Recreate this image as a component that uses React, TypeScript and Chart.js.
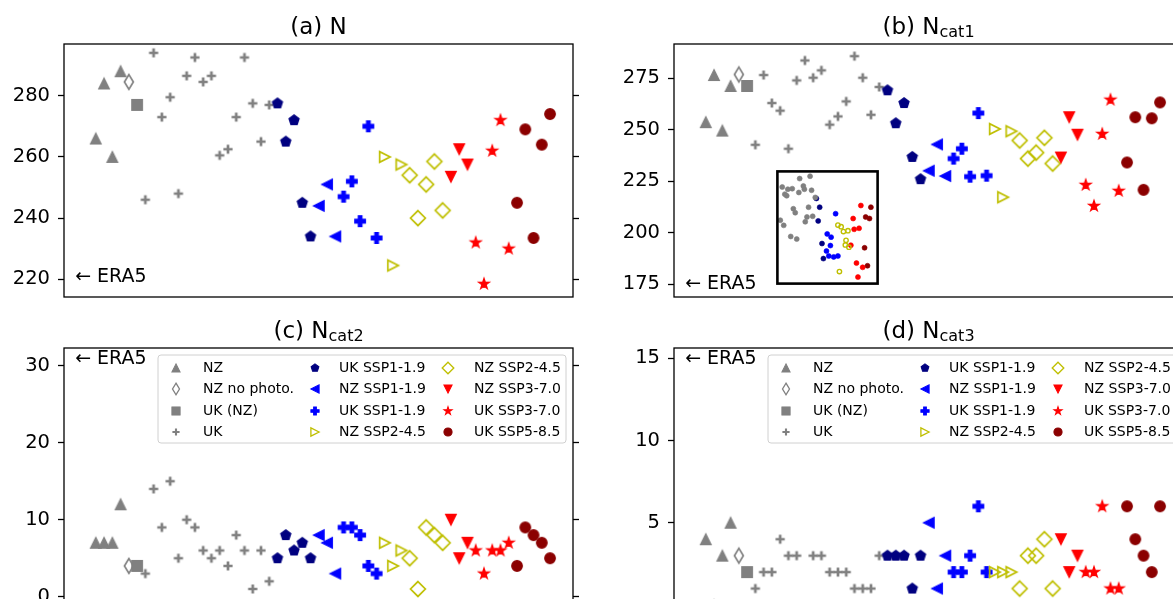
import React, { useEffect, useRef } from 'react';
import { Chart, registerables } from 'chart.js';

Chart.register(...registerables);

// ---------------- data ----------------
const groupLabels = ['NZ', 'NZ no photo.', 'UK (NZ)', 'UK', 'UK SSP1-1.9', 'NZ SSP1-1.9', 'UK SSP1-1.9', 'NZ SSP2-4.5', 'NZ SSP2-4.5', 'NZ SSP3-7.0', 'UK SSP3-7.0', 'UK SSP5-8.5'];
const groupColors = ['#808080', '#808080', '#808080', '#808080', '#000080', '#0000ff', '#0000ff', '#bfbf00', '#bfbf00', '#ff0000', '#ff0000', '#8b0000'];
const groupMarkers = ['triUp', 'thinDiamond', 'square', 'plus', 'pentagon', 'triLeft', 'plusFilled', 'triRight', 'diamond', 'triDown', 'star', 'circle'];
const groupFilled = [true, false, true, true, true, true, true, false, false, true, true, true];
// position of each group's first member along the (unlabelled) x axis
const groupFirstMember = [0, 4, 5, 6, 22, 27, 30, 35, 38, 43, 46, 51];

const valuesN = [
  [266, 284, 260, 288],
  [284.5],
  [277],
  [246, 294, 273, 279.5, 248, 286.5, 292.5, 284.5, 286.5, 260.5, 262.5, 273, 292.5, 277.5, 265, 277],
  [277.5, 265, 272, 245, 234],
  [244, 251, 234],
  [247, 252, 239, 270, 233.5],
  [260, 224.5, 257.5],
  [254, 240, 251, 258.5, 242.5],
  [253.5, 262.5, 257.5],
  [232, 218.5, 262, 272, 230],
  [245, 269, 233.5, 264, 274],
];
const valuesCat1 = [
  [253.7, 276.6, 249.6, 271.3],
  [276.9],
  [271.3],
  [242.7, 276.6, 263.0, 259.3, 240.8, 274.0, 283.7, 275.3, 278.9, 252.5, 256.5, 263.8, 285.8, 275.3, 257.3, 270.8],
  [269.2, 253.2, 263.0, 236.8, 226.0],
  [230.1, 242.9, 227.5],
  [236.0, 240.8, 227.2, 258.1, 227.7],
  [250.4, 217.2, 249.3],
  [244.8, 236.0, 238.9, 246.1, 233.6],
  [236.5, 256.1, 247.6],
  [223.2, 213.0, 248.0, 264.6, 220.3],
  [234.1, 256.1, 220.8, 255.6, 263.3],
];
const valuesCat2 = [
  [7, 7, 7, 12],
  [4],
  [4],
  [3, 14, 9, 15, 5, 10, 9, 6, 5, 6, 4, 8, 6, 1, 6, 2],
  [5, 8, 6, 7, 5],
  [8, 7, 3],
  [9, 9, 8, 4, 3],
  [7, 4, 6],
  [5, 1, 9, 8, 7],
  [10, 5, 7],
  [6, 3, 6, 6, 7],
  [4, 9, 8, 7, 5],
];
const valuesCat3 = [
  [4, 0, 3, 5],
  [3],
  [2],
  [1, 2, 2, 4, 3, 3, 0, 3, 3, 2, 2, 2, 1, 1, 1, 3],
  [3, 3, 3, 1, 3],
  [5, 1, 3],
  [2, 2, 3, 6, 2],
  [2, 2, 2],
  [1, 3, 3, 4, 1],
  [4, 2, 3],
  [2, 2, 6, 1, 1],
  [6, 4, 3, 2, 6],
];

const ticksN = [220, 240, 260, 280];
const ticksCat1 = [175, 200, 225, 250, 275];
const ticksCat2 = [0, 10, 20, 30];
const ticksCat3 = [5, 10, 15];

const era5Values = [220.8, 175, 30.8, 14.95];
const panelTitles = ['(a) N', '(b) N', '(c) N', '(d) N'];
const panelSubs = ['', 'cat1', 'cat2', 'cat3'];

// inset of panel (b)
const insetColors = ['#808080', '#000080', '#0000ff', '#bfbf00', '#ff0000', '#8b0000'];
const insetFilled = [true, true, true, false, true, true];
const insetX = [
  [4.8, 10.4, 14.8, 9.3, 7.4, 22.2, 32.6, 25.9, 21.4, 26.9, 34.1, 37.8, 15.9, 17.8, 31.1, 29.5, 27.8, 35.2, 2.9, 6.3, 13.3, 19.3],
  [38.9, 42.2, 40.7, 44.5, 45.9],
  [58.1, 49.7, 53.6, 52.9, 49.0, 51.3, 56.2, 60.4],
  [60.4, 63.6, 65.9, 70.4, 68.5, 67.8, 71.4, 61.9],
  [83.3, 75.6, 76.6, 81.5, 73.3, 78.9, 85.1, 80.4],
  [93.3, 88.1, 91.9, 87.0, 89.9],
];
const insetY = [
  [86.1, 84.1, 84.6, 78.3, 79.7, 93.6, 95.7, 87.0, 81.2, 84.1, 83.2, 76.8, 66.7, 63.2, 68.1, 59.4, 55.1, 60.0, 56.5, 51.9, 42.0, 39.7],
  [75.9, 68.1, 55.9, 35.7, 22.3],
  [62.3, 44.3, 41.4, 33.9, 29.0, 24.6, 23.8, 24.6],
  [52.2, 50.7, 46.4, 47.2, 38.6, 34.5, 32.5, 10.7],
  [69.6, 58.0, 48.4, 49.3, 34.2, 18.3, 14.5, 5.8],
  [68.1, 59.4, 58.0, 31.9, 15.9],
];

// ---------------- layout ----------------
const FONT = '"DejaVu Sans", "Liberation Sans", sans-serif';
const X_MIN = -3.85;
const X_MAX = 57.78;
const PAD_L = 64;
const PAD_T = 44;
const AREA_W = 509;
const AREA_H = 253;
const RIGHT_AXIS = 8;
const PAD_R = 2;
const PAD_B = 24;
const CW = PAD_L + AREA_W + RIGHT_AXIS + PAD_R;
const CH = PAD_T + AREA_H + PAD_B;

type PanelSpec = {
  idx: number;
  values: number[][];
  ticks: number[];
  yMin: number;
  yMax: number;
  legend: boolean;
  left: number;
  top: number;
};

const panels: PanelSpec[] = [
  { idx: 0, values: valuesN, ticks: ticksN, yMin: 214.2, yMax: 296.9, legend: false, left: 64, top: 44 },
  { idx: 1, values: valuesCat1, ticks: ticksCat1, yMin: 168.7, yMax: 291.7, legend: false, left: 674, top: 44 },
  { idx: 2, values: valuesCat2, ticks: ticksCat2, yMin: -0.56, yMax: 32.3, legend: true, left: 64, top: 348 },
  { idx: 3, values: valuesCat3, ticks: ticksCat3, yMin: 0.24, yMax: 15.63, legend: true, left: 674, top: 348 },
];

// ---------------- markers ----------------
function markerCanvas(kind: string, color: string, filled: boolean, scale: number): HTMLCanvasElement {
  const S = 2 * Math.ceil(13 * scale);
  const c = document.createElement('canvas');
  c.width = S;
  c.height = S;
  const ctx = c.getContext('2d') as CanvasRenderingContext2D;
  ctx.translate(S / 2, S / 2);
  const M = 10.5 * scale;
  const h = M / 2;
  ctx.strokeStyle = color;
  ctx.fillStyle = color;
  ctx.lineWidth = (filled ? 1.3 : 1.7) * scale;
  ctx.lineJoin = 'miter';
  let pts: number[][] | null = null;
  if (kind === 'triUp') pts = [[0, -h], [-h, h], [h, h]];
  else if (kind === 'triDown') pts = [[0, h], [-h, -h], [h, -h]];
  else if (kind === 'triLeft') pts = [[-h, 0], [h, -h], [h, h]];
  else if (kind === 'triRight') pts = [[h, 0], [-h, -h], [-h, h]];
  else if (kind === 'square') pts = [[-h, -h], [h, -h], [h, h], [-h, h]];
  else if (kind === 'diamond') {
    const d = 0.707 * M;
    pts = [[0, -d], [d, 0], [0, d], [-d, 0]];
  } else if (kind === 'thinDiamond') {
    const d = 0.707 * M;
    pts = [[0, -d], [0.6 * d, 0], [0, d], [-0.6 * d, 0]];
  } else if (kind === 'pentagon') {
    pts = [];
    for (let k = 0; k < 5; k++) {
      const a = -Math.PI / 2 + (k * 2 * Math.PI) / 5;
      pts.push([h * Math.cos(a), h * Math.sin(a)]);
    }
  } else if (kind === 'star') {
    pts = [];
    const R = h * 1.05;
    for (let k = 0; k < 10; k++) {
      const a = -Math.PI / 2 + (k * Math.PI) / 5;
      const r = k % 2 === 0 ? R : R * 0.381966;
      pts.push([r * Math.cos(a), r * Math.sin(a)]);
    }
  } else if (kind === 'plusFilled') {
    const u = M / 6;
    pts = [[-1, -3], [-1, -1], [-3, -1], [-3, 1], [-1, 1], [-1, 3], [1, 3], [1, 1], [3, 1], [3, -1], [1, -1], [1, -3]].map(
      (p) => [p[0] * u, p[1] * u]
    );
  }
  if (pts) {
    ctx.beginPath();
    pts.forEach((p, i) => (i === 0 ? ctx.moveTo(p[0], p[1]) : ctx.lineTo(p[0], p[1])));
    ctx.closePath();
    if (filled) ctx.fill();
    ctx.stroke();
  } else if (kind === 'circle') {
    ctx.beginPath();
    ctx.arc(0, 0, h, 0, Math.PI * 2);
    if (filled) ctx.fill();
    ctx.stroke();
  } else if (kind === 'plus') {
    const L = 4.6 * scale;
    ctx.lineWidth = 2.7 * scale;
    ctx.lineCap = 'butt';
    ctx.beginPath();
    ctx.moveTo(-L, 0);
    ctx.lineTo(L, 0);
    ctx.moveTo(0, -L);
    ctx.lineTo(0, L);
    ctx.stroke();
  }
  return c;
}

// ---------------- panel ----------------
function Panel({ spec }: { spec: PanelSpec }) {
  const ref = useRef<HTMLCanvasElement>(null);
  useEffect(() => {
    const canvas = ref.current as HTMLCanvasElement;
    const markers = groupLabels.map((_, g) => markerCanvas(groupMarkers[g], groupColors[g], groupFilled[g], 1));
    const legendMarkers = groupLabels.map((_, g) => markerCanvas(groupMarkers[g], groupColors[g], groupFilled[g], 0.78));
    const datasets = groupLabels.map((label, g) => ({
      label,
      data: spec.values[g].map((v, j) => ({ x: groupFirstMember[g] + j, y: v })),
      pointStyle: markers[g],
      pointRadius: 6,
      pointHoverRadius: 6,
      showLine: false,
      order: groupLabels.length - g,
    }));
    const yScaleBase = {
      type: 'linear',
      min: spec.yMin,
      max: spec.yMax,
      afterBuildTicks: (s: any) => {
        s.ticks = spec.ticks.map((v) => ({ value: v }));
      },
      grid: { drawOnChartArea: false, drawTicks: true, tickLength: 6, tickWidth: 1.3, tickColor: '#000' },
      border: { display: false },
    };
    const decor = {
      id: 'decor',
      afterDraw(chart: any) {
        const { ctx, chartArea } = chart;
        const { left, top, right, bottom } = chartArea;
        ctx.save();
        // frame
        ctx.strokeStyle = '#000';
        ctx.lineWidth = 1.3;
        ctx.strokeRect(left, top, right - left, bottom - top);
        // title
        ctx.fillStyle = '#000';
        ctx.textAlign = 'left';
        ctx.textBaseline = 'alphabetic';
        const main = panelTitles[spec.idx];
        const sub = panelSubs[spec.idx];
        ctx.font = `23px ${FONT}`;
        const wMain = ctx.measureText(main).width;
        ctx.font = `16px ${FONT}`;
        const wSub = sub ? ctx.measureText(sub).width : 0;
        const x0 = (left + right) / 2 - (wMain + wSub) / 2;
        const base = top - 10.5;
        ctx.font = `23px ${FONT}`;
        ctx.fillText(main, x0, base);
        if (sub) {
          ctx.font = `16px ${FONT}`;
          ctx.fillText(sub, x0 + wMain, base + 3);
        }
        // ERA5 annotation
        const xs = chart.scales.x;
        const ys = chart.scales.y;
        ctx.font = `19px ${FONT}`;
        ctx.textBaseline = 'middle';
        ctx.fillText('\u2190 ERA5', xs.getPixelForValue(-2.5), ys.getPixelForValue(era5Values[spec.idx]));
        // legend
        if (spec.legend) {
          const lw = 408;
          const lh = 88;
          const lx = right - 7 - lw;
          const ly = top + 7;
          ctx.beginPath();
          const r = 3;
          ctx.moveTo(lx + r, ly);
          ctx.arcTo(lx + lw, ly, lx + lw, ly + lh, r);
          ctx.arcTo(lx + lw, ly + lh, lx, ly + lh, r);
          ctx.arcTo(lx, ly + lh, lx, ly, r);
          ctx.arcTo(lx, ly, lx + lw, ly, r);
          ctx.closePath();
          ctx.fillStyle = 'rgba(255,255,255,0.8)';
          ctx.fill();
          ctx.strokeStyle = '#d0d0d0';
          ctx.lineWidth = 1;
          ctx.stroke();
          const colMarker = [18, 157, 290];
          const colText = [45, 181, 316];
          const rowY = [12.5, 34, 55.5, 77];
          ctx.font = `14px ${FONT}`;
          ctx.textBaseline = 'middle';
          ctx.fillStyle = '#000';
          groupLabels.forEach((label, g) => {
            const col = Math.floor(g / 4);
            const row = g % 4;
            const m = legendMarkers[g];
            const cy = ly + rowY[row];
            ctx.drawImage(m, Math.round(lx + colMarker[col] - m.width / 2), Math.round(cy - m.height / 2));
            ctx.fillText(label, lx + colText[col], cy + 0.5);
          });
        }
        ctx.restore();
      },
    };
    const chart = new Chart(canvas, {
      type: 'scatter',
      data: { datasets } as any,
      options: {
        animation: false,
        responsive: false,
        events: [],
        layout: { padding: { left: 0, top: PAD_T, right: PAD_R, bottom: PAD_B } },
        plugins: { legend: { display: false }, tooltip: { enabled: false }, title: { display: false } },
        scales: {
          x: { type: 'linear', min: X_MIN, max: X_MAX, display: false },
          y: {
            ...yScaleBase,
            position: 'left',
            afterFit: (s: any) => {
              s.width = PAD_L;
            },
            ticks: { font: { family: FONT, size: 19.5 }, color: '#000', padding: 8 },
          },
          y2: {
            ...yScaleBase,
            position: 'right',
            afterFit: (s: any) => {
              s.width = RIGHT_AXIS;
            },
            ticks: { display: false },
          },
        } as any,
      },
      plugins: [decor],
    } as any);
    return () => chart.destroy();
  }, []);
  return (
    <canvas
      ref={ref}
      width={CW}
      height={CH}
      style={{ position: 'absolute', left: spec.left - PAD_L, top: spec.top - PAD_T, width: CW, height: CH }}
    />
  );
}

// ---------------- inset ----------------
function Inset() {
  const ref = useRef<HTMLCanvasElement>(null);
  useEffect(() => {
    const canvas = ref.current as HTMLCanvasElement;
    const datasets = insetColors.map((color, g) => ({
      label: 'g' + g,
      data: insetX[g].map((x, j) => ({ x, y: insetY[g][j] })),
      pointStyle: 'circle',
      pointRadius: insetFilled[g] ? 2.5 : 2.2,
      backgroundColor: insetFilled[g] ? color : 'rgba(0,0,0,0)',
      borderColor: color,
      borderWidth: insetFilled[g] ? 0.6 : 1.4,
      showLine: false,
    }));
    const frame = {
      id: 'insetFrame',
      beforeDraw(chart: any) {
        const { ctx, chartArea } = chart;
        ctx.save();
        ctx.fillStyle = '#fff';
        ctx.fillRect(chartArea.left, chartArea.top, chartArea.right - chartArea.left, chartArea.bottom - chartArea.top);
        ctx.restore();
      },
      afterDraw(chart: any) {
        const { ctx, chartArea } = chart;
        ctx.save();
        ctx.strokeStyle = '#000';
        ctx.lineWidth = 2.6;
        ctx.strokeRect(chartArea.left, chartArea.top, chartArea.right - chartArea.left, chartArea.bottom - chartArea.top);
        ctx.restore();
      },
    };
    const chart = new Chart(canvas, {
      type: 'scatter',
      data: { datasets } as any,
      options: {
        animation: false,
        responsive: false,
        events: [],
        layout: { padding: 4 },
        plugins: { legend: { display: false }, tooltip: { enabled: false } },
        scales: {
          x: { type: 'linear', min: 0, max: 100, display: false },
          y: { type: 'linear', min: 0, max: 100, display: false },
        },
      },
      plugins: [frame],
    } as any);
    return () => chart.destroy();
  }, []);
  return (
    <canvas ref={ref} width={111} height={123} style={{ position: 'absolute', left: 772, top: 166, width: 111, height: 123 }} />
  );
}

export default function App() {
  return (
    <div
      style={{
        position: 'fixed',
        left: 0,
        top: 0,
        width: 1173,
        height: 599,
        overflow: 'hidden',
        background: '#fff',
      }}
    >
      {panels.map((p) => (
        <Panel key={p.idx} spec={p} />
      ))}
      <Inset />
    </div>
  );
}
